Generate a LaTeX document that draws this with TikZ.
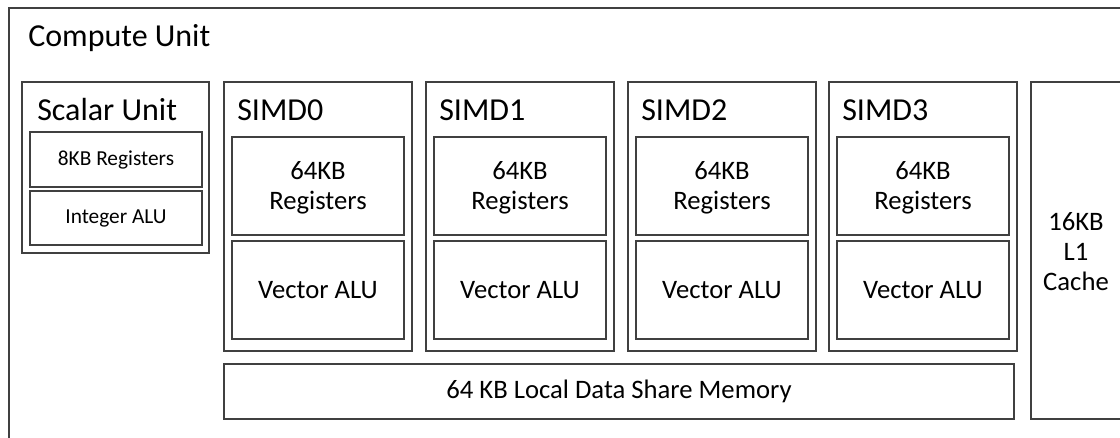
\documentclass[tikz,border=0pt]{standalone}
\usepackage{fontspec}
\setmainfont{Carlito}
\begin{document}
\begin{tikzpicture}[x=0.75pt,y=-0.75pt,
  box/.style={draw=black!75, line width=0.9pt, inner sep=0pt},
  title/.style={anchor=base west, inner sep=0pt, font=\fontsize{24}{28}\selectfont},
  big/.style={font=\fontsize{20}{23}\selectfont, align=center, inner sep=0pt},
  small/.style={font=\fontsize{16}{19}\selectfont, inner sep=0pt}]
\useasboundingbox (0,0) rectangle (1120,437);
\clip (0,0) rectangle (1120,437);

% outer compute unit frame (runs past the right and bottom edges)
\draw[box] (9,8) rectangle (1140,460);
\node[title] (cu) at (28,46) {Compute Unit};

% scalar unit
\draw[box] (22,82) rectangle (209,253);
\node[title] (su) at (37,120) {Scalar Unit};
\draw[box] (30,132) rectangle (202,187);
\node[small] (sreg) at (116,159.5) {8KB Registers};
\draw[box] (30,191) rectangle (202,245);
\node[small] (salu) at (116,218) {Integer ALU};

% four SIMD units
\foreach \i/\x in {0/224,1/426,2/628,3/829}{
  \draw[box] (\x,82) rectangle ++(188,269);
  \node[title] (simd\i) at (\x+13,120) {SIMD\i};
  \draw[box] (\x+8,137) rectangle ++(172,98);
  \node[big] (vreg\i) at (\x+94,188) {64KB\\[-0.5pt]Registers};
  \draw[box] (\x+8,241) rectangle ++(172,98);
  \node[big] (valu\i) at (\x+94,290) {Vector ALU};
}

% local data share
\draw[box] (224,364) rectangle (1014,419);
\node[big] (lds) at (619,391.5) {64 KB Local Data Share Memory};

% L1 cache (runs past the right edge)
\draw[box] (1031,82) rectangle (1140,419);
\node[big] (l1) at (1076,252) {16KB\\[-0.5pt]L1\\[-0.5pt]Cache};
\end{tikzpicture}
\end{document}
